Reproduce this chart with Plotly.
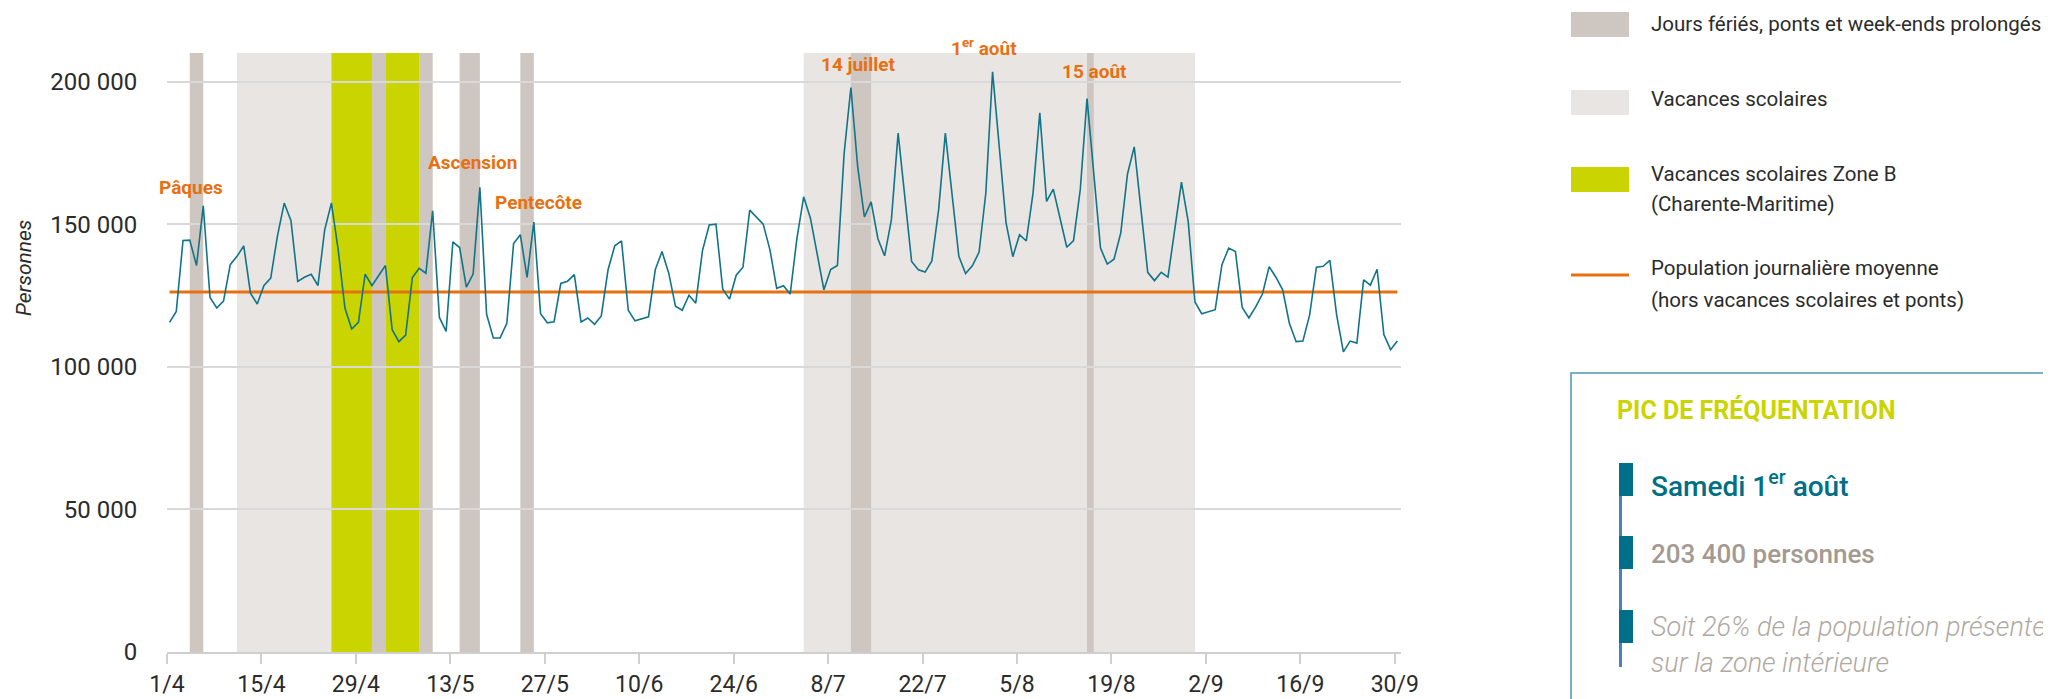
import plotly.graph_objects as go
import pandas as pd

# ---------------- data ----------------
start_date = "2015-04-01"
personnes = [
    115550, 119400, 144300, 144400, 135500, 156400, 124300, 120600, 123000, 135800,
    138700, 142400, 125800, 122000, 128500, 131100, 145900, 157400, 151200, 129900,
    131400, 132400, 128500, 148000, 157400, 141000, 120600, 113200, 115600, 132500,
    128400, 132000, 135500, 113000, 108800, 111100, 131300, 134500, 132800, 154700,
    117300, 112400, 143800, 141800, 127900, 132500, 162900, 118400, 110100, 110100,
    115200, 143200, 146300, 131300, 150700, 118600, 115400, 115800, 129200, 130000,
    132300, 115700, 117100, 114900, 117800, 134000, 142400, 144100, 119800, 116100,
    116700, 117500, 134000, 140400, 132800, 121200, 119800, 125100, 122300, 140700,
    149700, 150000, 127200, 123700, 132100, 134900, 154900, 152500, 150000, 141000,
    127500, 128400, 125500, 145000, 159600, 152100, 139800, 127000, 134100, 135500,
    174900, 197900, 170200, 152500, 157800, 144900, 138900, 151500, 181900, 159500,
    136900, 134000, 133200, 137100, 155000, 181900, 160000, 138700, 132700, 135400,
    140200, 160900, 203400, 178000, 150400, 138600, 146300, 144100, 160900, 189000,
    158000, 162300, 151900, 141900, 144200, 162100, 194000, 168000, 141600, 136000,
    137700, 146900, 167600, 177100, 153800, 133100, 130200, 133100, 131400, 147400,
    164700, 150900, 122700, 118600, 119300, 120000, 135800, 141600, 140400, 120800,
    117100, 121000, 125500, 135100, 131400, 127000, 115200, 108800, 109000, 118200,
    134900, 135200, 137300, 118200, 105200, 109000, 108300, 130500, 128600, 134200,
    111300, 106000, 109000,
]
moyenne = 126200

# periods (start date, end date)
feries = [("2015-04-04", "2015-04-06"), ("2015-05-01", "2015-05-03"),
          ("2015-05-08", "2015-05-10"), ("2015-05-14", "2015-05-17"),
          ("2015-05-23", "2015-05-25"), ("2015-07-11", "2015-07-14"),
          ("2015-08-15", "2015-08-16")]
vacances = [("2015-04-11", "2015-05-10"), ("2015-07-04", "2015-08-31")]
vacances_b = [("2015-04-25", "2015-05-01"), ("2015-05-03", "2015-05-08")]

evenements = ["Pâques", "Ascension", "Pentecôte", "14 juillet", "1<sup>er</sup> août", "15 août"]
evt_dates = ["2015-04-04 13:00", "2015-05-16 09:00", "2015-05-26 03:00",
             "2015-07-12 10:00", "2015-07-31 02:00", "2015-08-16 12:00"]
evt_rows = [187, 162, 202, 64, 47, 72]   # label centre, page pixels from top

tick_labels = ["1/4", "15/4", "29/4", "13/5", "27/5", "10/6", "24/6",
               "8/7", "22/7", "5/8", "19/8", "2/9", "16/9", "30/9"]

# ---------------- styles ----------------
C_FERIE = "#cdc6c1"
C_VAC = "#e8e5e2"
C_VACB = "#c9d400"
C_LINE = "#127488"
C_MEAN = "#e8700f"
C_TXT = "#2b2b2b"
FONT = "Roboto, Open Sans, sans-serif"

OFFSET = pd.Timedelta(hours=9)
dates = pd.date_range(start_date, periods=len(personnes), freq="D") + OFFSET

# page geometry (the page body adds an 8px margin around the figure)
PAGE_M = 8
L, T, W, H = 167, 53, 1234, 599          # plot area in page pixels
FIG_W, FIG_H = 2051 - PAGE_M, 699 - PAGE_M

def px(x):
    return (x - L) / W

def py(y):
    return (T + H - y) / H

fig = go.Figure()
fig.add_trace(go.Scatter(x=[dates[0], dates[-1]], y=[moyenne, moyenne], mode="lines",
                         line=dict(color=C_MEAN, width=3), hoverinfo="skip"))
fig.add_trace(go.Scatter(x=dates, y=personnes, mode="lines",
                         line=dict(color=C_LINE, width=1.6)))

def band(a, b, color):
    fig.add_shape(type="rect", xref="x", yref="paper",
                  x0=pd.Timestamp(a) + OFFSET, x1=pd.Timestamp(b) + OFFSET,
                  y0=0, y1=1, fillcolor=color, line_width=0, layer="between")

for a, b in vacances:
    band(a, b, C_VAC)
for a, b in vacances_b:
    band(a, b, C_VACB)
for a, b in feries:
    band(a, b, C_FERIE)

for t, d, r in zip(evenements, evt_dates, evt_rows):
    fig.add_annotation(x=d, y=py(r), text=t, showarrow=False, xref="x", yref="paper",
                       xanchor="center", yanchor="middle",
                       font=dict(family=FONT, size=19, color=C_MEAN, weight="bold"))

tickvals = pd.date_range(start_date, periods=len(tick_labels), freq="14D")

fig.update_layout(
    width=FIG_W, height=FIG_H,
    margin=dict(l=L - PAGE_M, r=FIG_W - (L - PAGE_M) - W, t=T - PAGE_M,
                b=FIG_H - (T - PAGE_M) - H),
    paper_bgcolor="white", plot_bgcolor="white",
    showlegend=False,
    font=dict(family=FONT, size=20, color=C_TXT),
    xaxis=dict(type="date", range=["2015-04-01", "2015-09-30 22:00"],
               tickvals=tickvals, ticktext=tick_labels,
               showgrid=False, showline=True, linecolor="#cfcfcf", linewidth=2,
               ticks="outside", ticklen=10, tickcolor="#cfcfcf", tickwidth=1.5,
               tickfont=dict(size=23), zeroline=False, automargin=False),
    yaxis=dict(range=[0, 210000], tickvals=[0, 50000, 100000, 150000, 200000],
               ticktext=["0", "50 000", "100 000", "150 000", "200 000"],
               showgrid=True, gridcolor="#d9d9d9", gridwidth=2,
               ticks="outside", ticklen=24, tickcolor="rgba(0,0,0,0)",
               tickfont=dict(size=24), zeroline=False, showline=False, automargin=False),
)

fig.add_annotation(xref="paper", yref="paper", x=px(24), y=py(268), text="<i>Personnes</i>",
                   textangle=-90, xanchor="center", yanchor="middle", showarrow=False,
                   font=dict(size=21, color=C_TXT))

# ---------------- custom legend ----------------
sw_x0, sw_x1, txt_x = 1571, 1629, 1649
for (y0, y1, col) in [(12, 37, C_FERIE), (90, 115, C_VAC), (167, 192, C_VACB)]:
    fig.add_shape(type="rect", xref="paper", yref="paper", x0=px(sw_x0), x1=px(sw_x1),
                  y0=py(y1), y1=py(y0), fillcolor=col, line_width=0)
fig.add_shape(type="line", xref="paper", yref="paper", x0=px(sw_x0), x1=px(sw_x1),
              y0=py(275), y1=py(275), line=dict(color=C_MEAN, width=3))
legend_lines = [("Jours fériés, ponts et week-ends prolongés", 24),
                ("Vacances scolaires", 99),
                ("Vacances scolaires Zone B", 174), ("(Charente-Maritime)", 204),
                ("Population journalière moyenne", 268),
                ("(hors vacances scolaires et ponts)", 300)]
for t, y in legend_lines:
    fig.add_annotation(xref="paper", yref="paper", x=px(txt_x), y=py(y), text=t,
                       xanchor="left", yanchor="middle", showarrow=False,
                       font=dict(size=20.5, color=C_TXT))

# ---------------- peak box ----------------
fig.add_shape(type="rect", xref="paper", yref="paper", x0=px(1571), x1=px(2200),
              y0=py(760), y1=py(373), line=dict(color="#4f98ad", width=1.5))
fig.add_annotation(xref="paper", yref="paper", x=px(1615), y=py(410),
                   text="PIC DE FRÉQUENTATION", xanchor="left", yanchor="middle",
                   showarrow=False, font=dict(size=25, color="#c9d400", weight="bold"))
fig.add_shape(type="line", xref="paper", yref="paper", x0=px(1620.5), x1=px(1620.5),
              y0=py(667), y1=py(463), line=dict(color="#4a7fc0", width=3))
for y0, y1 in [(463, 496), (536, 569), (610, 643)]:
    fig.add_shape(type="rect", xref="paper", yref="paper", x0=px(1619), x1=px(1633),
                  y0=py(y1), y1=py(y0), fillcolor="#00708a", line_width=0)
box_lines = [("Samedi 1<sup>er</sup> août", 484, "#006f86", 500, "normal", 28),
             ("203 400 personnes", 554, "#a39a92", 500, "normal", 26),
             ("Soit 26% de la population présente", 627, "#b0a9a2", 300, "italic", 27),
             ("sur la zone intérieure", 663, "#b0a9a2", 300, "italic", 27)]
for t, y, c, w, s, sz in box_lines:
    fig.add_annotation(xref="paper", yref="paper", x=px(1649), y=py(y), text=t,
                       xanchor="left", yanchor="middle", showarrow=False,
                       font=dict(size=sz, color=c, weight=w, style=s))

fig.write_html("out.html")
